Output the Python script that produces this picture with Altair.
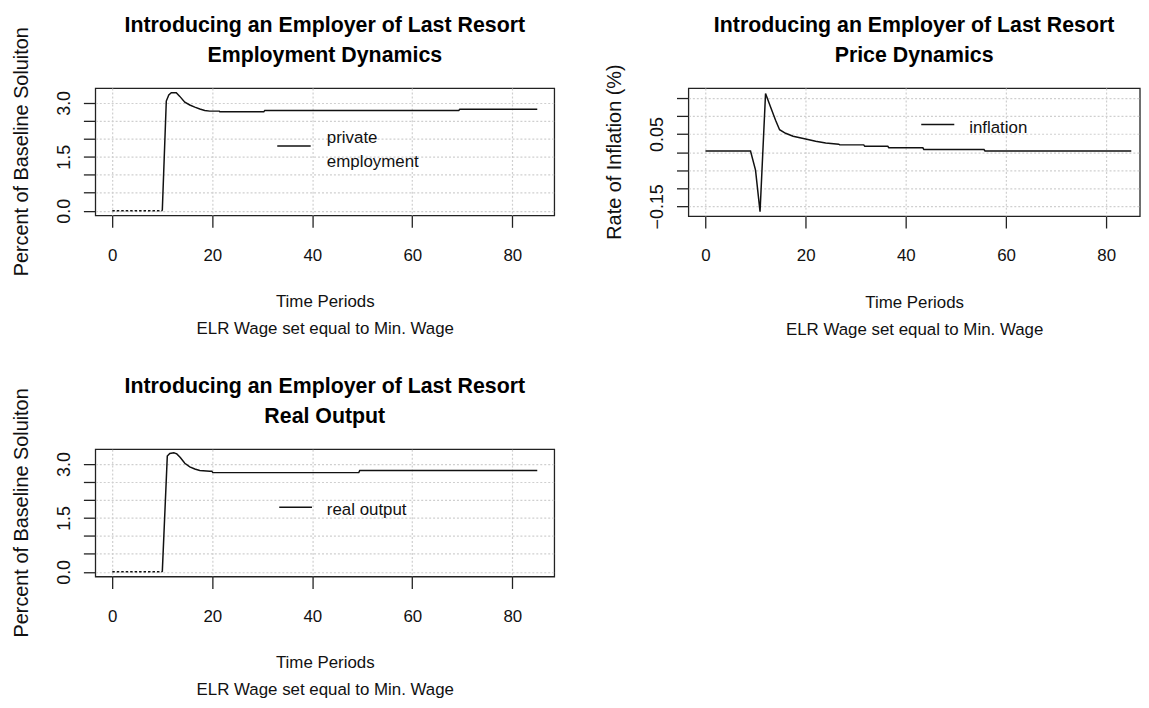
import altair as alt
import pandas as pd

# ---- data ----
# Panel 1: private employment (percent of baseline solution)
emp_t = [0, 10, 10.8, 11.3, 11.8, 12.8, 13.5, 14.5, 15.5, 16.5, 17.5, 18.5, 19.5,
         21.4, 21.5, 30.3, 30.5, 69.3, 69.5, 85]
emp_v = [0, 0, 3.05, 3.22, 3.28, 3.28, 3.18, 3.02, 2.94, 2.88, 2.83, 2.79, 2.77,
         2.77, 2.75, 2.75, 2.79, 2.79, 2.82, 2.82]

# Panel 2: inflation (%)
infl_t = [0, 9, 10, 10.9, 12, 13, 14, 14.8, 16, 17.5, 20, 22, 24, 26.6, 26.8,
          31.6, 31.8, 36.4, 36.6, 43.4, 43.6, 55.6, 55.8, 85]
infl_v = [0.003, 0.003, -0.05, -0.165, 0.162, 0.125, 0.088, 0.062, 0.052, 0.044,
          0.036, 0.030, 0.025, 0.022, 0.020, 0.020, 0.016, 0.016, 0.012, 0.012,
          0.007, 0.007, 0.003, 0.003]

# Panel 3: real output (percent of baseline solution)
out_t = [0, 10, 11, 11.5, 12.3, 12.9, 13.6, 14.5, 15.5, 16.5, 17.5, 19.5, 19.9,
         20.1, 49.3, 49.5, 85]
out_v = [0, 0, 3.22, 3.29, 3.31, 3.28, 3.18, 3.02, 2.92, 2.86, 2.82, 2.80, 2.80,
         2.76, 2.76, 2.82, 2.82]

# period before the ELR is introduced (line sits on the zero grid line)
pre_end = 10

x_ticks = [0, 20, 40, 60, 80]
pct_ticks = [0, 0.5, 1.0, 1.5, 2.0, 2.5, 3.0]
pct_labels = [0, 1.5, 3.0]
infl_ticks = [-0.15, -0.10, -0.05, 0.0, 0.05, 0.10, 0.15]
infl_labels = [-0.15, 0.05]

main_title = "Introducing an Employer of Last Resort"
x_title = ["Time Periods", "ELR Wage set equal to Min. Wage"]

FONT = "Liberation Sans, Arial, sans-serif"
INK = "#111111"


def label_expr(vals, fmt):
    cond = " || ".join(f"abs(datum.value - ({v})) < 1e-9" for v in vals)
    return f"({cond}) ? format(datum.value, '{fmt}') : ''"


def panel(t, v, subtitle, ytitle, ydomain, yticks, ylabels, yfmt, xdomain, width, height,
          legend_lines, leg_x, leg_y, text_x, text_ys, dotted_pre=False, anchor=False):
    df = pd.DataFrame({"t": t, "v": v})
    one = pd.DataFrame({"k": [0]})
    x = alt.X("t:Q", scale=alt.Scale(domain=xdomain, nice=False, zero=False),
              axis=alt.Axis(values=x_ticks, title=x_title, format="d"))
    y = alt.Y("v:Q", scale=alt.Scale(domain=ydomain, nice=False, zero=False),
              axis=alt.Axis(values=yticks, title=None, labelExpr=label_expr(ylabels, yfmt),
                            labelAngle=270, labelAlign="center", labelBaseline="bottom",
                            labelFontSize=18, labelPadding=10))
    layers = []
    if dotted_pre:
        layers.append(alt.Chart(df[df.t <= pre_end]).mark_line(
            color=INK, strokeWidth=1.5, strokeDash=[2.5, 2]).encode(x=x, y=y))
        layers.append(alt.Chart(df[df.t >= pre_end]).mark_line(
            color=INK, strokeWidth=1.5).encode(x=x, y=y))
    else:
        layers.append(alt.Chart(df).mark_line(color=INK, strokeWidth=1.5).encode(x=x, y=y))
    # legend
    layers.append(alt.Chart(one).mark_rule(color=INK, strokeWidth=1.5).encode(
        x=alt.value(leg_x[0]), x2=alt.value(leg_x[1]), y=alt.value(leg_y)))
    for txt, ty in zip(legend_lines, text_ys):
        layers.append(alt.Chart(one).mark_text(
            text=txt, align="left", baseline="middle", font=FONT, fontSize=17,
            color=INK).encode(x=alt.value(text_x), y=alt.value(ty)))
    # two-line main title, centred over the plot box
    layers.append(alt.Chart(one).mark_text(
        text=[main_title, subtitle], align="center", baseline="alphabetic", font=FONT,
        fontSize=21.5, fontWeight="bold", lineHeight=30, color="#000000").encode(
        x=alt.value(width / 2), y=alt.value(-56.7)))
    # rotated y-axis title
    layers.append(alt.Chart(one).mark_text(
        text=ytitle, align="center", baseline="middle", angle=270, font=FONT,
        fontSize=20, color=INK).encode(x=alt.value(-74), y=alt.value(height / 2)))
    if anchor:
        # invisible zero-length rule fixing the page origin of the layout
        layers.append(alt.Chart(one).mark_rule(strokeOpacity=0, strokeWidth=0).encode(
            x=alt.value(-86.6), x2=alt.value(-86.6), y=alt.value(-77), y2=alt.value(-77)))
    return alt.layer(*layers).properties(width=width, height=height)


p1 = panel(emp_t, emp_v, "Employment Dynamics", "Percent of Baseline Soluiton",
           [-0.13, 3.41], pct_ticks, pct_labels, ".1f", [-3.4, 88.4], 462.6, 128.3,
           ["private", "employment"], (183.4, 217.1), 58.3, 233.4, [50, 75],
           dotted_pre=True, anchor=True)
p2 = panel(infl_t, infl_v, "Price Dynamics", "Rate of Inflation (%)",
           [-0.177, 0.177], infl_ticks, infl_labels, ".2f", [-3.4, 86.7], 455, 129,
           ["inflation"], (234.7, 268), 36.7, 283, [40])
p3 = panel(out_t, out_v, "Real Output", "Percent of Baseline Soluiton",
           [-0.13, 3.41], pct_ticks, pct_labels, ".1f", [-3.4, 88.4], 462.6, 128.3,
           ["real output"], (185.4, 218.4), 58.4, 233.4, [61], dotted_pre=True)

chart = alt.concat(p1, p2, p3, columns=2, bounds="flush",
                   spacing={"row": 235, "column": 134.8}).properties(
    padding={"left": 0, "top": 0, "right": 0, "bottom": 0}
).configure_view(
    stroke="#222222", strokeWidth=1.3
).configure_axis(
    grid=True, gridColor="#cfcfcf", gridDash=[2, 2], gridWidth=1.2,
    domain=False, ticks=True, tickColor="#222222", tickSize=12, tickWidth=1.3,
    labelFont=FONT, labelFontSize=17, labelColor=INK, labelPadding=20,
    titleFont=FONT, titleFontSize=17, titleFontWeight="normal", titleColor=INK,
    titleLineHeight=27, titlePadding=31
)

chart.save("out.html", embed_options={"renderer": "svg", "actions": False})
